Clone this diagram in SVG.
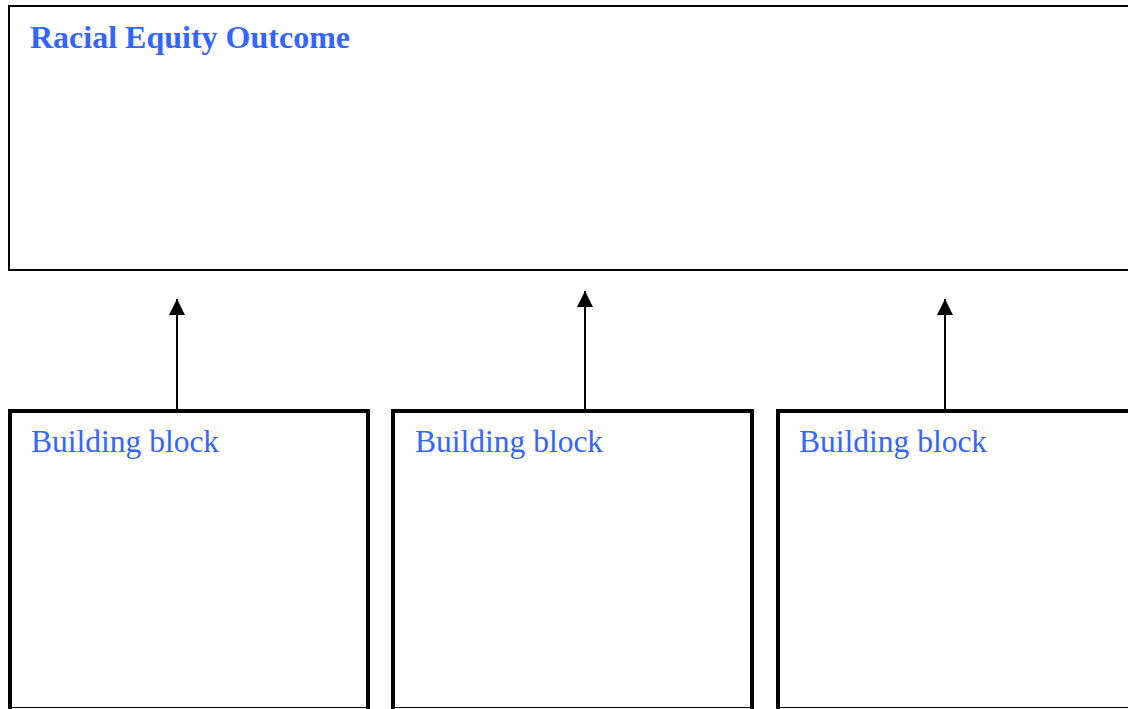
<svg xmlns="http://www.w3.org/2000/svg" width="1128" height="709" viewBox="0 0 1128 709">
<style>
.title{font-family:"Liberation Serif",serif;font-weight:bold;font-size:32px;fill:#3366ff}
.lbl{font-family:"Liberation Serif",serif;font-size:31.5px;fill:#3366ff}
.outer{fill:#fff;stroke:#000;stroke-width:2}
.blk{fill:#fff;stroke:#000;stroke-width:4}
.conn{stroke:#000;stroke-width:2;fill:none}
</style>
<defs>
<marker id="ah" markerWidth="8" markerHeight="8" refX="8" refY="4" orient="auto" markerUnits="strokeWidth">
<path d="M0,0 L8,4 L0,8 Z" fill="#000"/>
</marker>
</defs>
<rect width="1128" height="709" fill="#fff"/>
<g id="outcome">
<rect class="outer" x="9" y="6" width="1130" height="264"/>
<text class="title" x="30" y="48">Racial Equity Outcome</text>
</g>
<g id="block1">
<path class="blk" d="M10,709 V411 H368 V709"/>
<text class="lbl" x="31" y="452">Building block</text>
</g>
<g id="block2">
<path class="blk" d="M393,709 V411 H752 V709"/>
<text class="lbl" x="415" y="452">Building block</text>
</g>
<g id="block3">
<path class="blk" d="M778,709 V411 H1132"/>
<text class="lbl" x="799" y="452">Building block</text>
</g>
<path d="M10,707.5 H368 M393,707.5 H752 M778,707.5 H1128" stroke="#000" stroke-width="1"/>
<g id="connectors">
<line class="conn" x1="177" y1="410" x2="177" y2="299" marker-end="url(#ah)"/>
<line class="conn" x1="585" y1="410" x2="585" y2="291" marker-end="url(#ah)"/>
<line class="conn" x1="945" y1="410" x2="945" y2="299" marker-end="url(#ah)"/>
</g>
</svg>
